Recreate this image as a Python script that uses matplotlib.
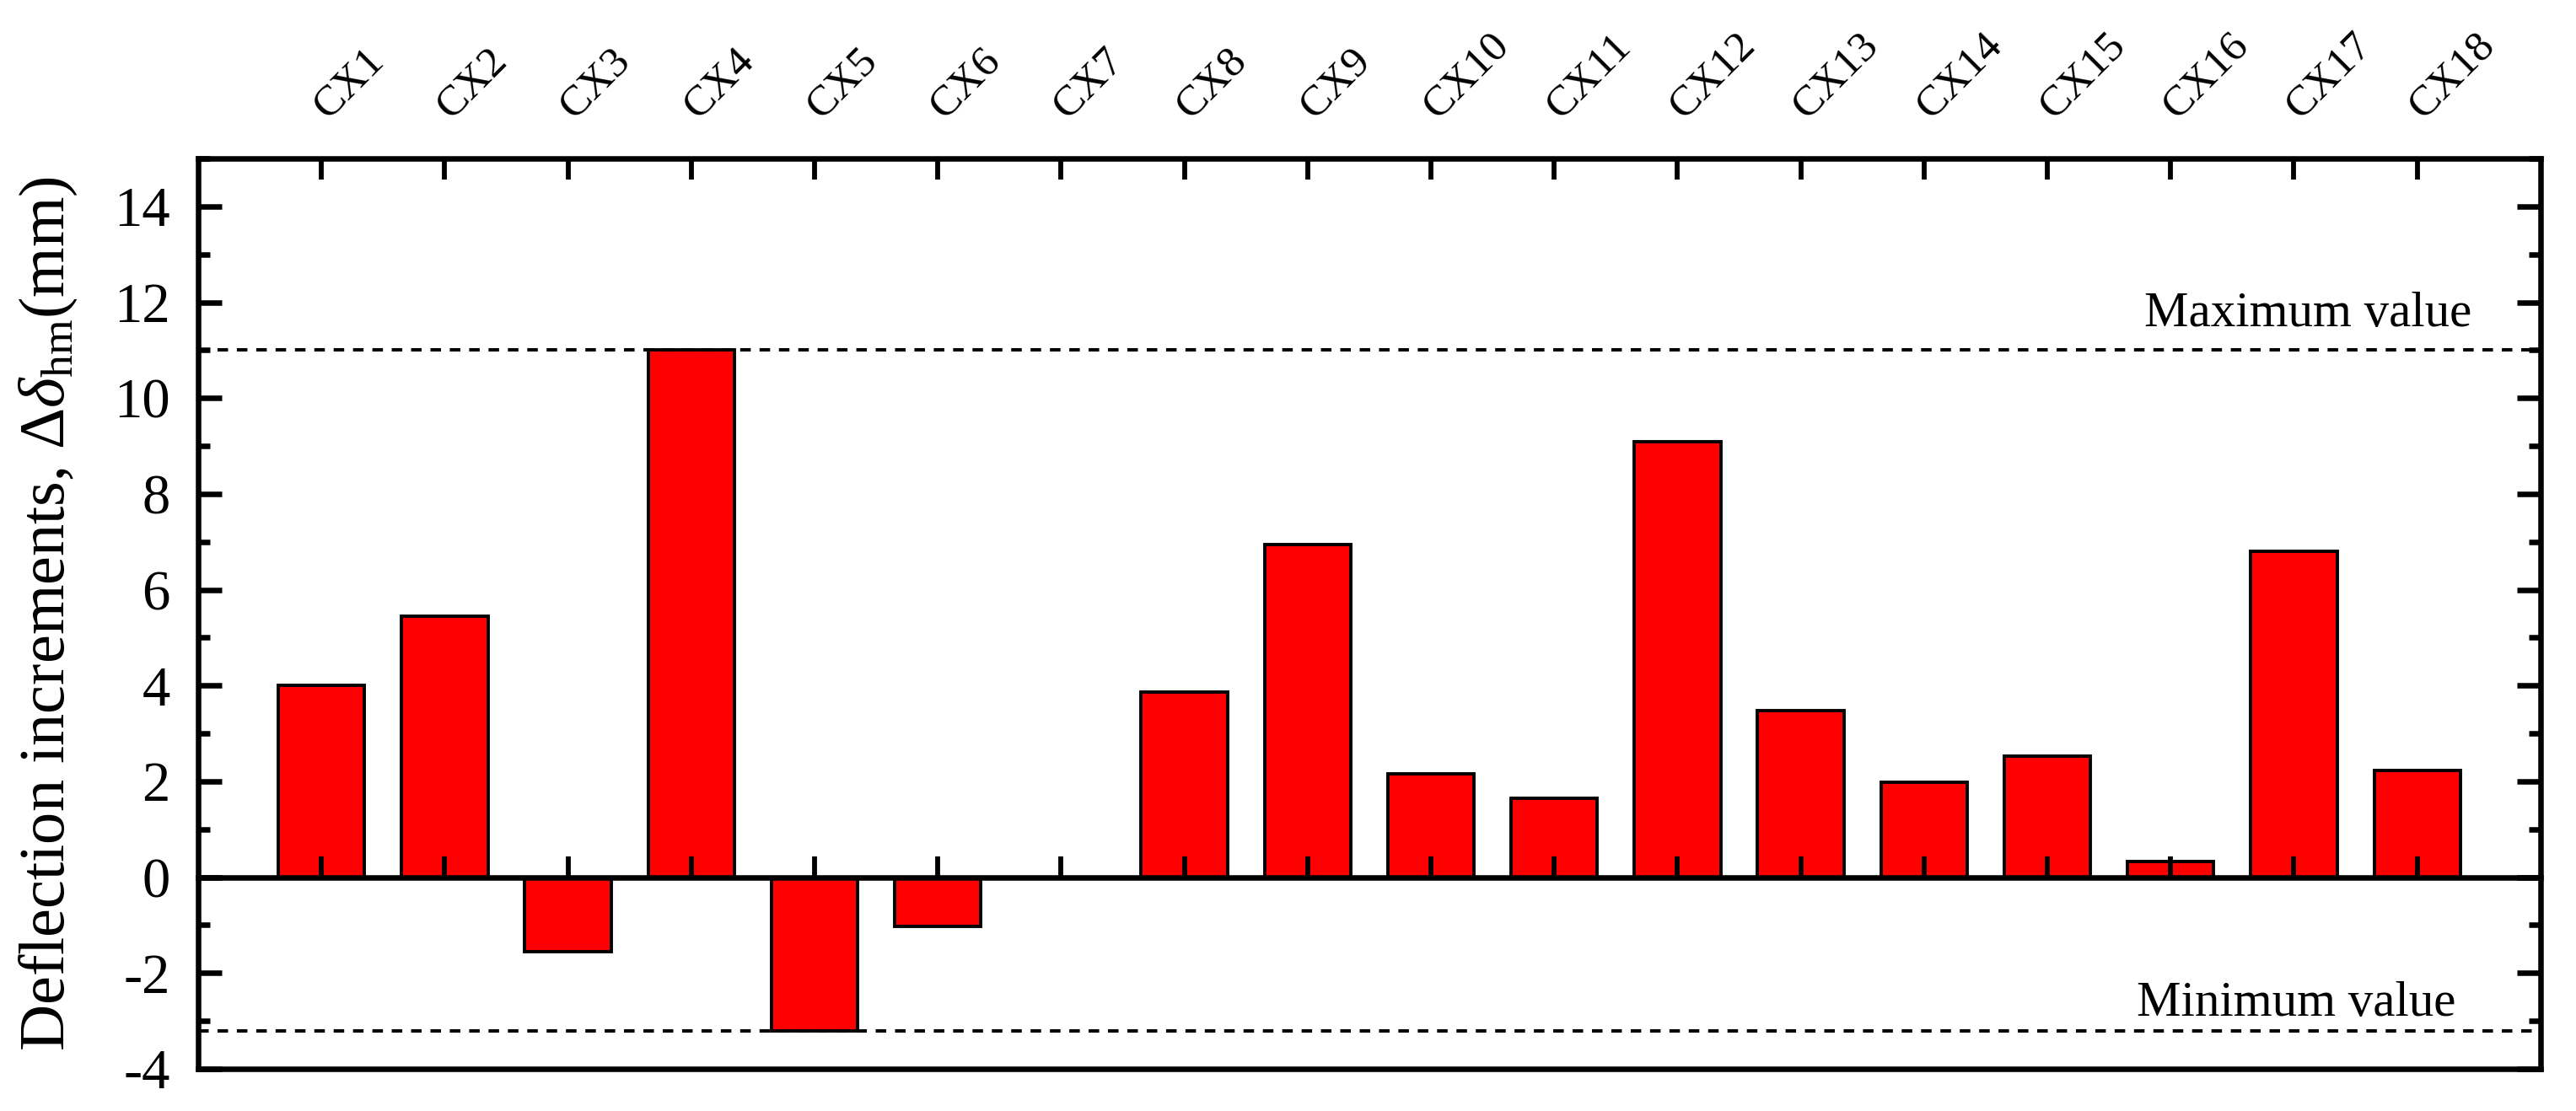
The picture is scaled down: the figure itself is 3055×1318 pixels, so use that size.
import matplotlib
matplotlib.use('Agg')
import matplotlib.pyplot as plt
from matplotlib.ticker import MultipleLocator
from matplotlib.transforms import ScaledTranslation

categories = ['CX1', 'CX2', 'CX3', 'CX4', 'CX5', 'CX6', 'CX7', 'CX8', 'CX9',
              'CX10', 'CX11', 'CX12', 'CX13', 'CX14', 'CX15', 'CX16', 'CX17', 'CX18']
increments = [4.0, 5.45, -1.55, 11.0, -3.2, -1.03, 0.0, 3.87, 6.94,
              2.15, 1.65, 9.09, 3.47, 1.98, 2.53, 0.32, 6.8, 2.22]
max_value = 11.0
min_value = -3.2
y_ticks = [-4, -2, 0, 2, 4, 6, 8, 10, 12, 14]

plt.rcParams['font.family'] = ['Liberation Serif', 'DejaVu Serif']
plt.rcParams['mathtext.fontset'] = 'custom'
plt.rcParams['mathtext.rm'] = 'Liberation Serif'
plt.rcParams['mathtext.it'] = 'Liberation Serif:italic'
plt.rcParams['mathtext.bf'] = 'Liberation Serif:bold'
plt.rcParams['axes.unicode_minus'] = False

fig = plt.figure(figsize=(30.55, 13.18), dpi=100)
ax = fig.add_axes([0.07692, 0.03794, 0.9093, 0.8194])

x = list(range(1, len(categories) + 1))
ax.bar(x, increments, width=0.7, color='#ff0000', edgecolor='black',
       linewidth=2.8, zorder=1)
ax.axhline(max_value, color='black', lw=2.9, ls=(0, (3.1, 2.6)), zorder=2)
ax.axhline(min_value, color='black', lw=2.9, ls=(0, (3.1, 2.6)), zorder=2)

ax.set_xlim(0, 19)
ax.set_ylim(-4, 15)

ax.text(18.44, 11.5, 'Maximum value', ha='right', va='baseline', fontsize=42.5)
ax.text(18.31, -2.89, 'Minimum value', ha='right', va='baseline', fontsize=42.5)

# spines
for s in ax.spines.values():
    s.set_linewidth(4.7)
ax.spines['bottom'].set_position(('data', 0))
ax.plot([0, 1], [0, 0], transform=ax.transAxes, color='black', lw=4.7,
        clip_on=False, solid_capstyle='projecting', zorder=3)

# x ticks
ax.set_xticks(x)
ax.set_xticklabels(categories)
ax.tick_params(axis='x', which='major', direction='in', length=18, width=4.2,
               top=True, bottom=True, labeltop=True, labelbottom=False,
               labelsize=37, pad=28)
ax.xaxis.set_minor_locator(plt.NullLocator())
offset = ScaledTranslation(15 / 100, 0, fig.dpi_scale_trans)
for tick in ax.xaxis.get_major_ticks():
    lbl = tick.label2
    lbl.set_rotation(45)
    lbl.set_rotation_mode('anchor')
    lbl.set_ha('left')
    lbl.set_va('bottom')
    lbl.set_transform(lbl.get_transform() + offset)

# y ticks
ax.set_yticks(y_ticks)
ax.yaxis.set_minor_locator(MultipleLocator(1))
ax.tick_params(axis='y', which='both', direction='in', left=True, right=True,
               width=4.7, labelsize=48, pad=24)
ax.tick_params(axis='y', which='major', length=20)
ax.tick_params(axis='y', which='minor', length=10)

ax.set_ylabel(r'Deflection increments, $\Delta\delta_{\mathrm{hm}}$(mm)', fontsize=55)
ax.yaxis.set_label_coords(-0.0508, 0.5)

fig.savefig('out.png', dpi=100)
